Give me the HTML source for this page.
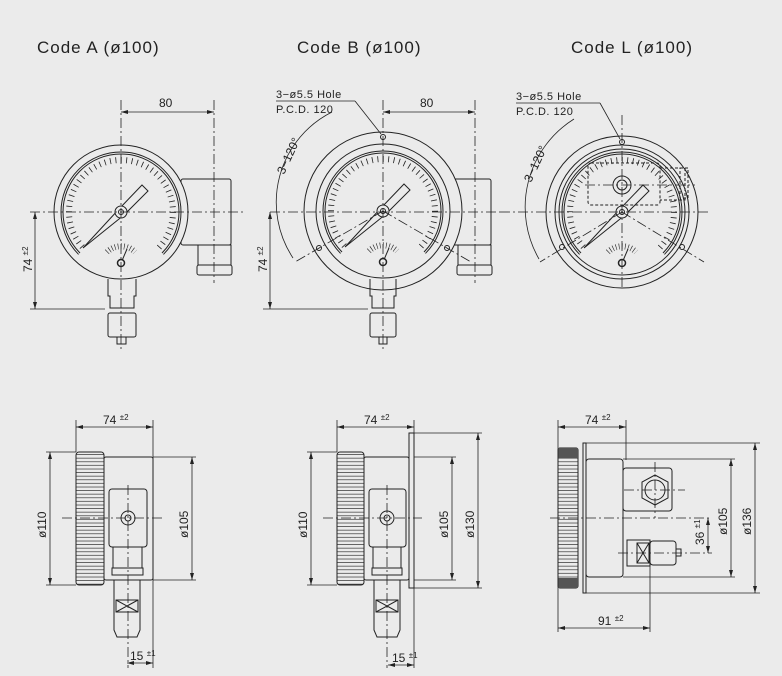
<!DOCTYPE html>
<html><head><meta charset="utf-8"><style>
html,body{margin:0;padding:0;background:#ebebeb;}
svg{display:block;}
text{font-family:"Liberation Sans",sans-serif;fill:#222;}
</style></head><body>
<svg width="782" height="676" viewBox="0 0 782 676" xmlns="http://www.w3.org/2000/svg">
<defs>
<pattern id="hl" width="6" height="3.6" patternUnits="userSpaceOnUse">
 <line x1="0" y1="1" x2="6" y2="1" stroke="#333" stroke-width="0.7"/>
</pattern>
<g id="dial" fill="none" stroke="#222" stroke-width="1">
 <circle r="60"/><circle r="58"/>
 <circle r="52" stroke-width="6" pathLength="360" stroke-dasharray="0.9 5.1"/>
 <path d="M0 0 L-44 44 A62 62 0 0 0 44 44Z" fill="#ebebeb" stroke="none"/>
 <path d="M-14 40 A20 20 0 0 1 14 40" stroke-width="6" pathLength="100" stroke-dasharray="2 8"/>
 <polygon points="-38,36 -2,-3 21,-27 27,-21 3,3" fill="#ebebeb"/>
 <circle r="6" fill="#ebebeb"/><circle r="2.5"/>
 <line x1="0" y1="51" x2="6" y2="37"/>
 <circle cx="0" cy="51" r="3.5" fill="#ebebeb" stroke-width="1.5"/>
</g>
</defs>
<text x="37" y="53" font-size="17" letter-spacing="1">Code A (ø100)</text>
<text x="297" y="53" font-size="17" letter-spacing="1">Code B (ø100)</text>
<text x="571" y="53" font-size="17" letter-spacing="1">Code L (ø100)</text>

<g fill="none" stroke="#222" stroke-width="1">
<!-- ===== Top A ===== -->
<rect x="181" y="179" width="50" height="66" rx="2"/>
<rect x="198" y="245" width="33" height="20"/>
<rect x="197" y="265" width="35" height="10" rx="2"/>
<circle cx="121" cy="212" r="67" fill="#ebebeb"/>
<use href="#dial" x="121" y="212"/>
<path d="M108 279 V296 H110 V308 H134 V296 H136 V279"/>
<rect x="108" y="313" width="28" height="24" rx="2"/>
<rect x="117" y="337" width="9" height="7"/>
<g stroke-dasharray="10 3 2 3" stroke-width="0.8">
<line x1="30" y1="212" x2="245" y2="212"/>
<line x1="121" y1="100" x2="121" y2="350"/>
<line x1="214" y1="100" x2="214" y2="283"/>
</g>
<line x1="121" y1="112" x2="214" y2="112" stroke-width="0.8"/>
<line x1="30" y1="309" x2="105" y2="309" stroke-width="0.8"/>
<line x1="35" y1="212" x2="35" y2="309" stroke-width="0.8"/>

<!-- ===== Top B ===== -->
<rect x="442" y="179" width="49" height="66" rx="2"/>
<rect x="458" y="245" width="33" height="20"/>
<rect x="457" y="265" width="35" height="10" rx="2"/>
<circle cx="383" cy="211" r="79" fill="#ebebeb"/>
<circle cx="383" cy="211" r="67"/>
<use href="#dial" x="383" y="211"/>
<path d="M370 279 V296 H372 V308 H394 V296 H396 V279"/>
<rect x="370" y="313" width="26" height="24" rx="2"/>
<rect x="379" y="337" width="8" height="7"/>
<circle cx="383" cy="137" r="2.5"/><circle cx="319" cy="248" r="2.5"/><circle cx="447" cy="248" r="2.5"/>
<path d="M332 112 A101 101 0 0 0 293 258" stroke-width="0.8"/>
<line x1="276" y1="101" x2="355" y2="101" stroke-width="0.8"/>
<line x1="355" y1="101" x2="381" y2="134" stroke-width="0.8"/>
<g stroke-dasharray="10 3 2 3" stroke-width="0.8">
<line x1="270" y1="212" x2="500" y2="212"/>
<line x1="383" y1="100" x2="383" y2="350"/>
<line x1="475" y1="100" x2="475" y2="283"/>
<line x1="383" y1="211" x2="295" y2="262"/>
<line x1="383" y1="211" x2="471" y2="262"/>
</g>
<line x1="383" y1="112" x2="475" y2="112" stroke-width="0.8"/>
<line x1="263" y1="309" x2="368" y2="309" stroke-width="0.8"/>
<line x1="270" y1="212" x2="270" y2="309" stroke-width="0.8"/>

<!-- ===== Top L ===== -->
<circle cx="622" cy="212" r="76" fill="#ebebeb"/>
<circle cx="622" cy="212" r="67"/>
<circle cx="622" cy="212" r="63"/>
<use href="#dial" x="622" y="212"/>
<rect x="588" y="163" width="72" height="42" rx="3" stroke-dasharray="3 2"/>
<path d="M660 168 H685 V200 H660" stroke-dasharray="3 2"/>
<rect x="680" y="168" width="8" height="30" stroke-dasharray="3 2"/>
<circle cx="622" cy="185" r="9"/><circle cx="622" cy="185" r="5"/>
<circle cx="622" cy="142" r="2.5"/><circle cx="562" cy="247" r="2.5"/><circle cx="682" cy="247" r="2.5"/>
<path d="M574 119 A104 104 0 0 0 539 259" stroke-width="0.8"/>
<line x1="516" y1="103" x2="600" y2="103" stroke-width="0.8"/>
<line x1="600" y1="103" x2="620" y2="139" stroke-width="0.8"/>
<g stroke-dasharray="10 3 2 3" stroke-width="0.8">
<line x1="500" y1="212" x2="710" y2="212"/>
<line x1="622" y1="115" x2="622" y2="290"/>
<line x1="585" y1="185" x2="695" y2="185"/>
<line x1="622" y1="212" x2="540" y2="262"/>
<line x1="622" y1="212" x2="704" y2="262"/>
</g>

<!-- ===== Bottom A ===== -->
<rect x="104" y="457" width="49" height="123" rx="2"/>
<rect x="76" y="452" width="28" height="133" rx="3" fill="url(#hl)"/>
<rect x="109" y="489" width="38" height="58" rx="3"/>
<circle cx="128" cy="518" r="7"/><circle cx="128" cy="518" r="3"/>
<rect x="113" y="547" width="29" height="21"/>
<rect x="112" y="568" width="31" height="7"/>
<path d="M114 580 V630 L117 637 H137 L140 630 V580"/>
<rect x="116" y="600" width="22" height="12"/><path d="M116 600 L138 612 M138 600 L116 612"/>
<g stroke-dasharray="10 3 2 3" stroke-width="0.8">
<line x1="62" y1="518" x2="162" y2="518"/>
<line x1="128" y1="485" x2="128" y2="668"/>
</g>
<g stroke-width="0.8">
<line x1="76" y1="420" x2="76" y2="452"/><line x1="153" y1="420" x2="153" y2="668"/>
<line x1="76" y1="427" x2="153" y2="427"/>
<line x1="46" y1="452" x2="76" y2="452"/><line x1="46" y1="585" x2="76" y2="585"/>
<line x1="50" y1="452" x2="50" y2="585"/>
<line x1="153" y1="457" x2="196" y2="457"/><line x1="153" y1="580" x2="196" y2="580"/>
<line x1="192" y1="457" x2="192" y2="580"/>
<line x1="127" y1="663" x2="153" y2="663"/>
</g>

<!-- ===== Bottom B ===== -->
<rect x="364" y="457" width="45" height="123" rx="2"/>
<rect x="409" y="433" width="5" height="155"/>
<rect x="337" y="452" width="27" height="133" rx="3" fill="url(#hl)"/>
<rect x="369" y="489" width="37" height="58" rx="3"/>
<circle cx="387" cy="518" r="7"/><circle cx="387" cy="518" r="3"/>
<rect x="373" y="547" width="28" height="21"/>
<rect x="372" y="568" width="30" height="7"/>
<path d="M374 580 V630 L377 637 H397 L400 630 V580"/>
<rect x="376" y="600" width="22" height="12"/><path d="M376 600 L398 612 M398 600 L376 612"/>
<g stroke-dasharray="10 3 2 3" stroke-width="0.8">
<line x1="323" y1="518" x2="422" y2="518"/>
<line x1="387" y1="485" x2="387" y2="668"/>
</g>
<g stroke-width="0.8">
<line x1="337" y1="420" x2="337" y2="452"/><line x1="414" y1="420" x2="414" y2="668"/>
<line x1="337" y1="427" x2="414" y2="427"/>
<line x1="307" y1="452" x2="337" y2="452"/><line x1="307" y1="585" x2="337" y2="585"/>
<line x1="311" y1="452" x2="311" y2="585"/>
<line x1="414" y1="457" x2="456" y2="457"/><line x1="414" y1="580" x2="456" y2="580"/>
<line x1="452" y1="457" x2="452" y2="580"/>
<line x1="414" y1="433" x2="482" y2="433"/><line x1="414" y1="588" x2="482" y2="588"/>
<line x1="478" y1="433" x2="478" y2="588"/>
<line x1="388" y1="665" x2="414" y2="665"/>
</g>

<!-- ===== Bottom L ===== -->
<rect x="586" y="459" width="37" height="118" rx="3"/>
<rect x="583" y="443" width="3" height="150"/>
<rect x="558" y="448" width="20" height="140" rx="2" fill="url(#hl)"/>
<rect x="558" y="448" width="20" height="10" fill="#555" stroke="none"/>
<rect x="558" y="578" width="20" height="10" fill="#555" stroke="none"/>
<rect x="623" y="468" width="49" height="43" rx="3"/>
<polygon points="655,475 668,482 668,498 655,505 642,498 642,482"/>
<circle cx="655" cy="490" r="10"/>
<rect x="627" y="540" width="23" height="26"/>
<rect x="637" y="543" width="12" height="20"/><path d="M637 543 L649 563 M649 543 L637 563"/>
<rect x="650" y="541" width="26" height="24" rx="3"/>
<rect x="676" y="549" width="5" height="7"/>
<g stroke-dasharray="10 3 2 3" stroke-width="0.8">
<line x1="550" y1="518" x2="712" y2="518"/>
<line x1="655" y1="462" x2="655" y2="518"/>
<line x1="624" y1="490" x2="685" y2="490"/>
<line x1="618" y1="553" x2="712" y2="553"/>
</g>
<g stroke-width="0.8">
<line x1="558" y1="420" x2="558" y2="632"/><line x1="626" y1="420" x2="626" y2="460"/>
<line x1="558" y1="427" x2="626" y2="427"/>
<line x1="650" y1="566" x2="650" y2="632"/>
<line x1="558" y1="628" x2="650" y2="628"/>
<line x1="586" y1="443" x2="760" y2="443"/><line x1="586" y1="593" x2="760" y2="593"/>
<line x1="755" y1="443" x2="755" y2="593"/>
<line x1="623" y1="459" x2="735" y2="459"/><line x1="623" y1="577" x2="735" y2="577"/>
<line x1="731" y1="459" x2="731" y2="577"/>
<line x1="708" y1="518" x2="708" y2="553"/>
</g>
</g>

<!-- arrowheads -->
<g fill="#222">
<path d="M121 112 l7 -2 v4z M214 112 l-7 -2 v4z"/>
<path d="M383 112 l7 -2 v4z M475 112 l-7 -2 v4z"/>
<path d="M35 212 l-2 7 h4z M35 309 l-2 -7 h4z M270 212 l-2 7 h4z M270 309 l-2 -7 h4z"/>
<path d="M76 427 l7 -2 v4z M153 427 l-7 -2 v4z M337 427 l7 -2 v4z M414 427 l-7 -2 v4z M558 427 l7 -2 v4z M626 427 l-7 -2 v4z"/>
<path d="M50 452 l-2 7 h4z M50 585 l-2 -7 h4z M192 457 l-2 7 h4z M192 580 l-2 -7 h4z"/>
<path d="M311 452 l-2 7 h4z M311 585 l-2 -7 h4z M452 457 l-2 7 h4z M452 580 l-2 -7 h4z M478 433 l-2 7 h4z M478 588 l-2 -7 h4z"/>
<path d="M731 459 l-2 7 h4z M731 577 l-2 -7 h4z M755 443 l-2 7 h4z M755 593 l-2 -7 h4z M708 518 l-2 7 h4z M708 553 l-2 -7 h4z"/>
<path d="M127 663 l7 -2 v4z M153 663 l-7 -2 v4z M388 665 l7 -2 v4z M414 665 l-7 -2 v4z M558 628 l7 -2 v4z M650 628 l-7 -2 v4z"/>
</g>

<!-- labels -->
<g font-size="12">
<text x="159" y="107">80</text>
<text x="420" y="107">80</text>
<text x="276" y="98" font-size="11" letter-spacing="0.5">3−ø5.5  Hole</text>
<text x="276" y="113" font-size="11" letter-spacing="0.5">P.C.D.  120</text>
<text x="516" y="100" font-size="11" letter-spacing="0.5">3−ø5.5  Hole</text>
<text x="516" y="115" font-size="11" letter-spacing="0.5">P.C.D.  120</text>
<text transform="translate(284,175) rotate(-65)" font-size="12">3−120°</text>
<text transform="translate(531,183) rotate(-65)" font-size="12">3−120°</text>
<text transform="translate(32,272) rotate(-90)">74 <tspan font-size="8" dy="-4">±2</tspan></text>
<text transform="translate(267,272) rotate(-90)">74 <tspan font-size="8" dy="-4">±2</tspan></text>
<text x="103" y="424">74 <tspan font-size="8" dy="-4">±2</tspan></text>
<text x="364" y="424">74 <tspan font-size="8" dy="-4">±2</tspan></text>
<text x="585" y="424">74 <tspan font-size="8" dy="-4">±2</tspan></text>
<text x="598" y="625">91 <tspan font-size="8" dy="-4">±2</tspan></text>
<text x="130" y="660">15 <tspan font-size="8" dy="-4">±1</tspan></text>
<text x="392" y="662">15 <tspan font-size="8" dy="-4">±1</tspan></text>
<text transform="translate(46,538) rotate(-90)">ø110</text>
<text transform="translate(307,538) rotate(-90)">ø110</text>
<text transform="translate(188,538) rotate(-90)">ø105</text>
<text transform="translate(448,538) rotate(-90)">ø105</text>
<text transform="translate(474,538) rotate(-90)">ø130</text>
<text transform="translate(727,535) rotate(-90)">ø105</text>
<text transform="translate(751,535) rotate(-90)">ø136</text>
<text transform="translate(704,545) rotate(-90)">36 <tspan font-size="8" dy="-4">±1</tspan></text>
</g>
</svg>
</body></html>
